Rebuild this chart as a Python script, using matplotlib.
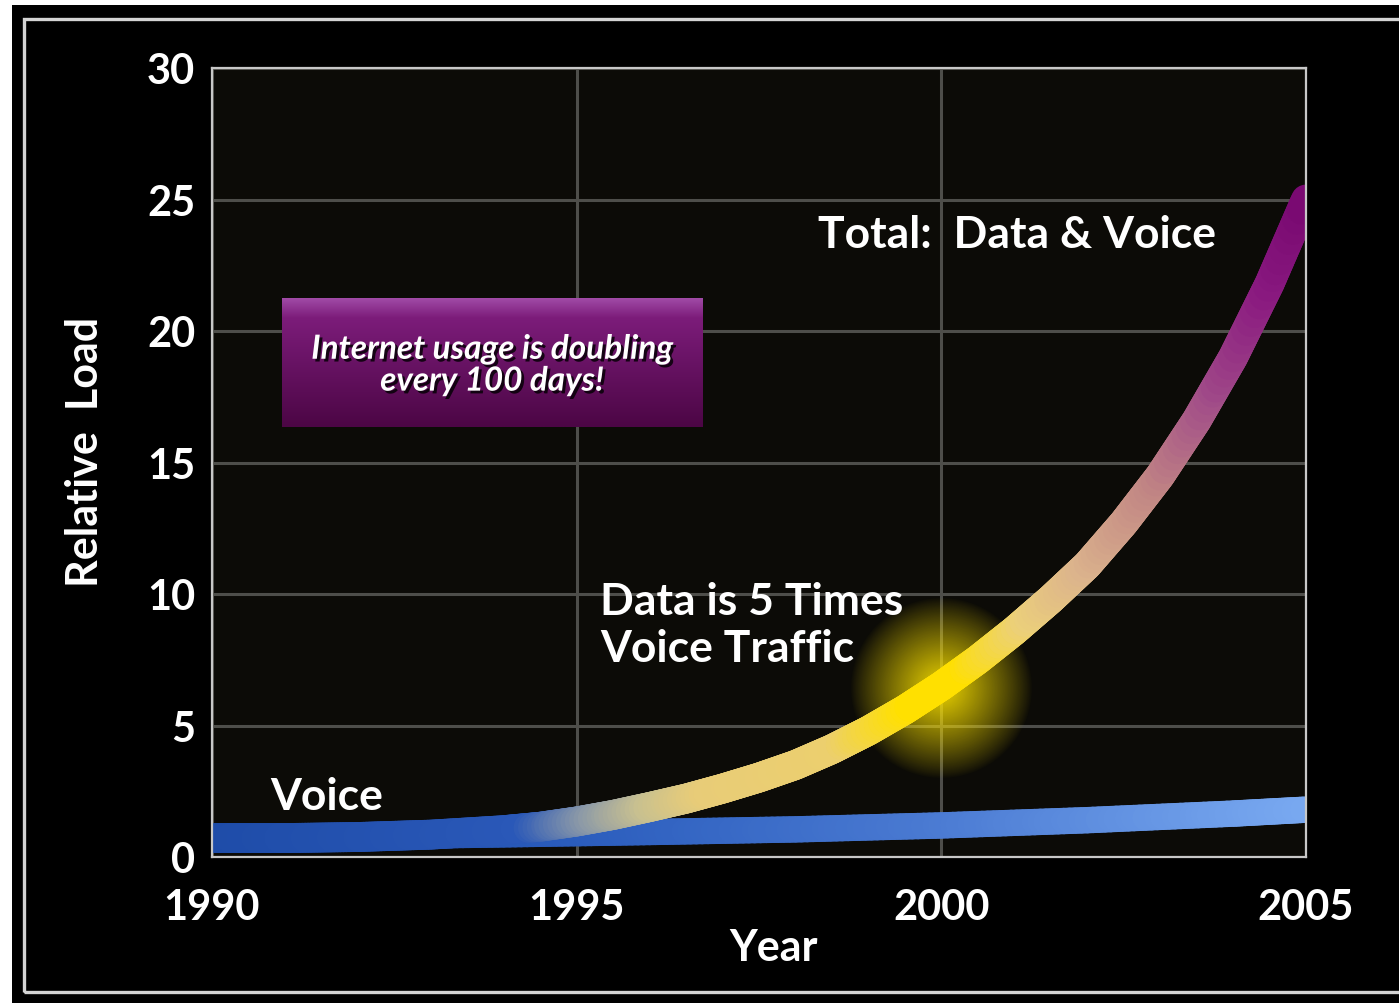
import numpy as np
import matplotlib
matplotlib.use('Agg')
import matplotlib.pyplot as plt
import matplotlib.patheffects as pe
from matplotlib.collections import LineCollection
from matplotlib.colors import LinearSegmentedColormap, Normalize, to_rgb
from matplotlib.patches import Rectangle

plt.rcParams['font.family'] = ['Lato', 'DejaVu Sans']
plt.rcParams['font.weight'] = 'bold'

# load curves (relative units)
years = [1990, 1991, 1992, 1993, 1994, 1994.5, 1995, 1995.5, 1996, 1996.5,
         1997, 1997.5, 1998, 1998.5, 1999, 1999.5, 2000, 2000.5, 2001,
         2001.5, 2002, 2002.5, 2003, 2003.5, 2004, 2004.5, 2005]
total_load = [0.72, 0.72, 0.76, 0.85, 1.02, 1.15, 1.35, 1.6, 1.9, 2.22,
              2.6, 3.02, 3.5, 4.1, 4.8, 5.6, 6.5, 7.5, 8.6,
              9.8, 11.1, 12.7, 14.5, 16.6, 19.0, 21.8, 25.0]
voice_years = [1990, 1992, 1994, 1996, 1998, 2000, 2002, 2004, 2005]
voice_load = [0.72, 0.78, 0.86, 0.95, 1.05, 1.2, 1.4, 1.65, 1.8]

x_ticks = [1990, 1995, 2000, 2005]
y_ticks = [0, 5, 10, 15, 20, 25, 30]

# colour along the total curve, keyed by year
total_stops = [(1990, '#1e4ca8'), (1994.3, '#2a58b8'), (1995.2, '#8a98a8'),
               (1996.0, '#c8c090'), (1996.8, '#e8cc78'), (1998.6, '#eccf6e'),
               (1999.6, '#ffe000'), (2000.3, '#ffe000'), (2001.2, '#ecd07a'),
               (2002.0, '#dcb48c'), (2003.0, '#c08484'), (2003.8, '#a04a88'),
               (2004.5, '#8a1a80'), (2005, '#7a0a72')]
voice_stops = [(1990, '#1c48a2'), (1995, '#2a5cbc'), (2000, '#4a7ad2'),
               (2005, '#78a8f0')]


def make_cmap(name, stops):
    lo, hi = stops[0][0], stops[-1][0]
    return LinearSegmentedColormap.from_list(
        name, [((y - lo) / (hi - lo), c) for y, c in stops])


def gradient_band(ax, xs, ys, cmap, lw, z):
    # split each straight piece so the colour can change along it
    px, py = [], []
    for i in range(len(xs) - 1):
        t = np.linspace(0, 1, 25, endpoint=False)
        px.extend(xs[i] + (xs[i + 1] - xs[i]) * t)
        py.extend(ys[i] + (ys[i + 1] - ys[i]) * t)
    px.append(xs[-1])
    py.append(ys[-1])
    pts = np.column_stack([px, py]).reshape(-1, 1, 2)
    segs = np.concatenate([pts[:-1], pts[1:]], axis=1)
    lc = LineCollection(segs, cmap=cmap, norm=Normalize(1990, 2005),
                        linewidths=lw, capstyle='round', joinstyle='round',
                        zorder=z)
    lc.set_array((np.array(px[:-1]) + np.array(px[1:])) / 2)
    ax.add_collection(lc)
    return lc


fig = plt.figure(figsize=(13.99, 10.04), dpi=100)
fig.patch.set_facecolor('white')
fig.add_artist(Rectangle((12 / 1399, 0), 1, 998 / 1004, transform=fig.transFigure,
                         facecolor='black', edgecolor='none', zorder=-10))
fig.add_artist(Rectangle((24 / 1399, 11 / 1004), 1.2, 973 / 1004,
                         transform=fig.transFigure, fill=False,
                         edgecolor='#d4d4d4', linewidth=2.4, zorder=-9))

ax = fig.add_axes([212 / 1399, 1 - 858 / 1004, 1094 / 1399, 789 / 1004])
ax.set_facecolor('#0c0b07')

# yellow glow around the 2000 point
n = 240
gx, gy = np.meshgrid(np.linspace(-1, 1, n), np.linspace(-1, 1, n))
r = np.sqrt(gx ** 2 + gy ** 2)
glow = np.zeros((n, n, 4))
glow[..., 0] = 1.0
glow[..., 1] = 0.9
glow[..., 2] = 0.0
glow[..., 3] = np.clip(1 - r, 0, 1) ** 0.9 * 0.92
ax.imshow(glow, extent=[2000 - 1.25, 2000 + 1.25, 6.4 - 3.45, 6.4 + 3.45],
          aspect='auto', interpolation='bilinear', zorder=2)

gradient_band(ax, voice_years, voice_load, make_cmap('voice', voice_stops), 19, 3)
gradient_band(ax, years, total_load, make_cmap('total', total_stops), 21.5, 4)

# message box
box_top = np.array(to_rgb('#a04aa6'))
box_mid = np.array(to_rgb('#7c1c7a'))
box_bot = np.array(to_rgb('#4c0645'))
tt = np.linspace(0, 1, 100)[:, None]
grad = np.where(tt < 0.15, box_top + (box_mid - box_top) * (tt / 0.15),
                box_mid + (box_bot - box_mid) * ((tt - 0.15) / 0.85))
ax.imshow(grad[:, None, :], extent=[1990.96, 1996.72, 16.36, 21.24],
          aspect='auto', interpolation='bilinear', zorder=5)
ax.text(1993.84, 18.7, 'Internet usage is doubling\nevery 100 days!',
        ha='center', va='center', color='white', fontsize=24, style='italic',
        fontweight='bold', linespacing=1.12, zorder=6,
        path_effects=[pe.withSimplePatchShadow(offset=(2, -2),
                                               shadow_rgbFace='black', alpha=0.8)])

ax.text(1998.31, 23.67, 'Total:  Data & Voice', ha='left', va='center',
        color='white', fontsize=32, zorder=6)
ax.text(1995.32, 8.85, 'Data is 5 Times\nVoice Traffic', ha='left', va='center',
        color='white', fontsize=32, linespacing=1.22, zorder=6)
ax.text(1990.8, 2.33, 'Voice', ha='left', va='center', color='white',
        fontsize=32, zorder=6)

ax.set_xlim(1990, 2005)
ax.set_ylim(0, 30)
ax.set_xticks(x_ticks)
ax.set_yticks(y_ticks)
ax.set_xticklabels([str(t) for t in x_ticks])
ax.tick_params(axis='both', length=0, labelsize=30, labelcolor='white')
ax.tick_params(axis='x', pad=22)
ax.tick_params(axis='y', pad=12)
ax.grid(True, color='#4e4e4a', linewidth=2.2, zorder=1)
ax.set_axisbelow(True)
for s in ax.spines.values():
    s.set_color('#c8c8c8')
    s.set_linewidth(1.6)
    s.set_zorder(7)

ax.set_xlabel('Year', fontsize=31, color='white', fontweight='bold', va='center')
ax.xaxis.set_label_coords(0.513, -0.114)
ax.set_ylabel('Relative  Load', fontsize=31, color='white', fontweight='bold',
              va='center')
ax.yaxis.set_label_coords(-0.116, 0.515)

fig.savefig('out.png', dpi=100, facecolor=fig.get_facecolor())
